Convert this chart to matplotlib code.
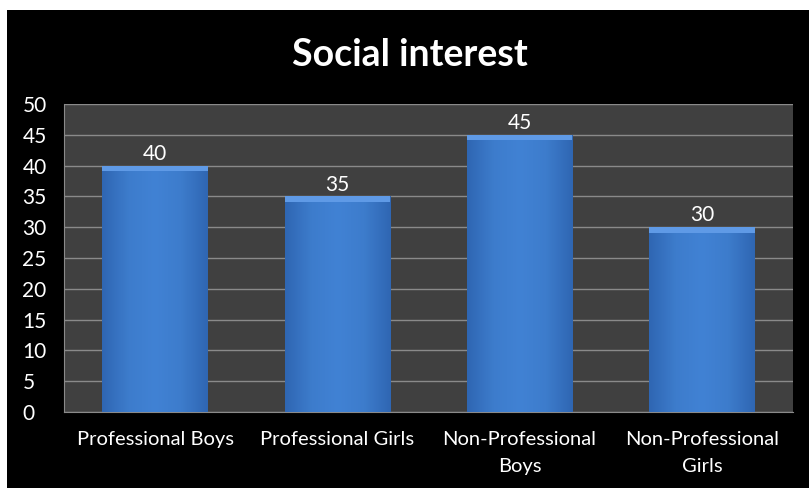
import numpy as np
import matplotlib.pyplot as plt
from matplotlib.patches import Rectangle
from matplotlib.colors import LinearSegmentedColormap

groups = ["Professional Boys", "Professional Girls", "Non-Professional\nBoys", "Non-Professional\nGirls"]
scores = [40, 35, 45, 30]
yticks = [0, 5, 10, 15, 20, 25, 30, 35, 40, 45, 50]

plt.rcParams['font.family'] = ['Lato', 'DejaVu Sans']

fig = plt.figure(figsize=(8.09, 4.88), dpi=100, facecolor="white")
# black slide background, white margin at top/left
fig.patches.append(Rectangle((7/809, 0), 1, 1 - 10/488, transform=fig.transFigure,
                             facecolor="black", edgecolor="none", zorder=-10))

ax = fig.add_axes([64/809, 1 - 412/488, (793 - 64)/809, (412 - 104)/488])
ax.set_facecolor("#404040")
ax.set_xlim(-0.5, 3.5)
ax.set_ylim(0, 50)
ax.set_yticks(yticks)
ax.tick_params(axis="y", colors="white", labelsize=15, length=0, pad=30)
ax.tick_params(axis="x", colors="white", labelsize=14.5, length=0, pad=14)
for lbl in ax.get_yticklabels():
    lbl.set_horizontalalignment("left")
ax.yaxis.grid(True, color="#8a8a8a", linewidth=1)
ax.set_axisbelow(True)
for s in ["top", "right"]:
    ax.spines[s].set_visible(False)
for s in ["left", "bottom"]:
    ax.spines[s].set_color("#8a8a8a")

x = np.arange(len(groups))
bars = ax.bar(x, scores, width=0.58, color="#3d7ccc", zorder=2)

# soft horizontal gradient across each bar
cmap = LinearSegmentedColormap.from_list("bar", ["#2f66b2", "#3d7ccc", "#4182d4", "#3d7ccc", "#2f66b2"])
grad = np.linspace(0, 1, 256).reshape(1, -1)
for b in bars:
    bx, bw, bh = b.get_x(), b.get_width(), b.get_height()
    im = ax.imshow(grad, cmap=cmap, extent=[bx, bx + bw, 0, bh], aspect="auto", zorder=3)
    im.set_clip_path(b)
    # top bevel
    ax.add_patch(Rectangle((bx, bh - 0.9), bw, 0.9, facecolor="#5f9ae6", edgecolor="none", zorder=4))
    ax.text(bx + bw / 2, bh + 0.3, str(int(bh)), ha="center", va="bottom",
            color="white", fontsize=15, zorder=5)

ax.set_xticks(x)
ax.set_xticklabels(groups, linespacing=1.7)

fig.text(0.507, 1 - 55/488, "Social interest", ha="center", va="center",
         color="white", fontsize=27, fontweight="bold")

fig.savefig("out.png", dpi=100, facecolor=fig.get_facecolor())
